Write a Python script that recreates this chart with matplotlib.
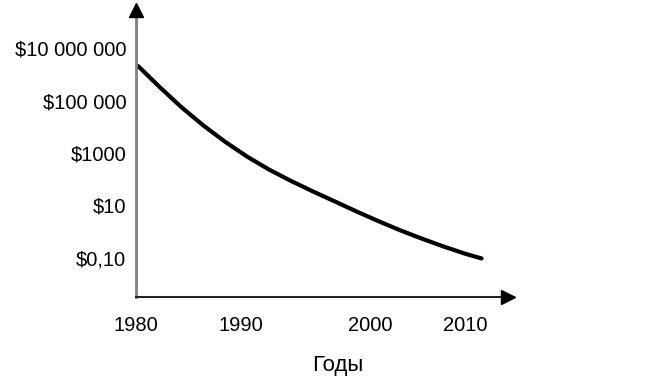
import matplotlib.pyplot as plt
import numpy as np

plt.rcParams['font.family'] = ['Liberation Sans', 'DejaVu Sans']

# Curve (price vs year, log scale)
years = [1980, 1982, 1984, 1986, 1988, 1990, 1992, 1994, 1996, 1998,
         2000, 2002, 2004, 2006, 2008, 2010, 2011.5]
price = [2.04e6, 3.16e5, 5.4e4, 1.1e4, 2630, 724, 234, 87, 34.7, 14.5,
         6.0, 2.57, 1.15, 0.55, 0.275, 0.145, 0.096]

ytick_vals = [1e7, 1e5, 1e3, 1e1, 1e-1]
ytick_labels = ['$10 000 000', '$100 000', '$1000', '$10', '$0,10']
xtick_labels = ['1980', '1990', '2000', '2010']
# where the labels sit along the axis in the original drawing
xtick_pos = [1979.8, 1989.4, 2001.3, 2010.0]

W, H = 650, 385
fig = plt.figure(figsize=(W / 100, H / 100), dpi=100)

# axes box in pixels: left 136, right 508, top 10, bottom 297
left, right, top, bottom = 136, 508, 10, 297
ax = fig.add_axes([left / W, 1 - bottom / H, (right - left) / W, (bottom - top) / H])

ax.plot(years, price, color='black', lw=3.0, solid_capstyle='round', solid_joinstyle='round')
ax.set_yscale('log')

# pixel -> data mapping
px_per_year = 10.967
px_per_decade = 26.25
ax.set_xlim(1980, 1980 + (right - left) / px_per_year)
ax.set_ylim(10 ** (7 - (bottom - 48) / px_per_decade), 10 ** (7 + (48 - top) / px_per_decade))

ax.set_yticks(ytick_vals)
ax.set_yticklabels(ytick_labels)
ax.yaxis.set_minor_locator(plt.NullLocator())
ax.set_xticks(xtick_pos)
ax.set_xticklabels(xtick_labels)
ax.tick_params(axis='y', length=0, pad=7, labelsize=14.5)
ax.tick_params(axis='x', length=0, pad=14, labelsize=14.5)

for s in ax.spines.values():
    s.set_visible(False)

# axis lines with arrowheads
ax.plot([0, 0], [0, 1], transform=ax.transAxes, color='#808080', lw=2, clip_on=False)
ax.plot([0, 1], [0, 0], transform=ax.transAxes, color='#222222', lw=1.5, clip_on=False)
ax.plot(0, 1, marker='^', color='black', markersize=10, transform=ax.transAxes, clip_on=False)
ax.plot(1, 0, marker='>', color='black', markersize=10, transform=ax.transAxes, clip_on=False)

fig.text(338 / W, 1 - 366 / H, 'Годы', ha='center', va='center', fontsize=16)

fig.savefig('out.png', dpi=100, facecolor='white')
